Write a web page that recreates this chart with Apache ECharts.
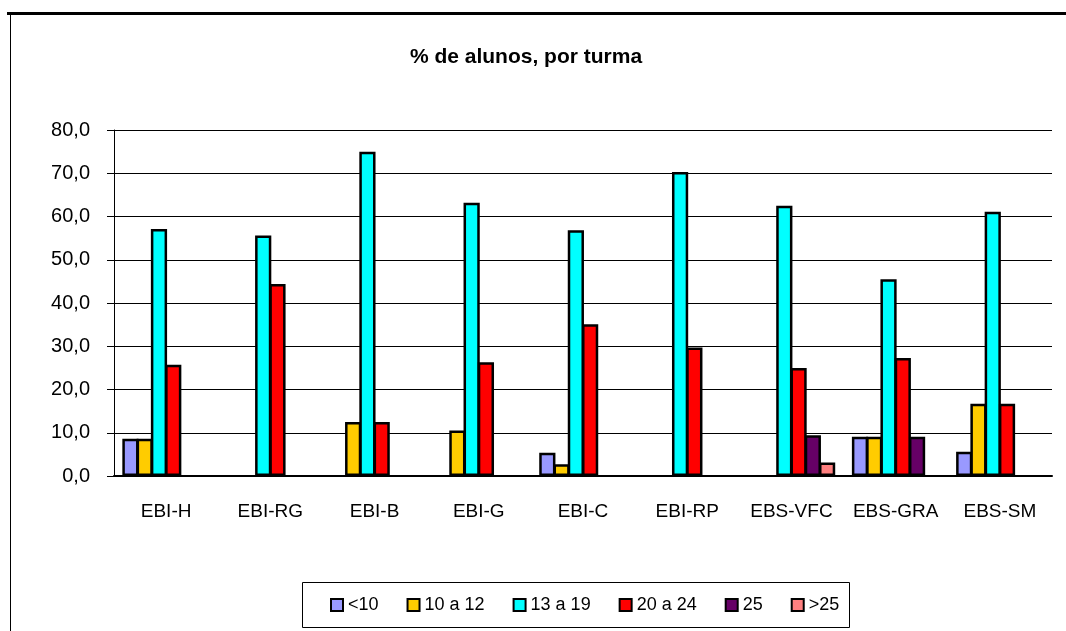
<!DOCTYPE html>
<html>
<head>
<meta charset="utf-8">
<script src="https://cdn.jsdelivr.net/npm/echarts@6/dist/echarts.min.js"></script>
<style>
  html, body { margin: 0; padding: 0; background: #fff; }
  #main { width: 1066px; height: 631px; }
</style>
</head>
<body>
<div id="main"></div>
<script>
// turmas
const turmas = ['EBI-H', 'EBI-RG', 'EBI-B', 'EBI-G', 'EBI-C', 'EBI-RP', 'EBS-VFC', 'EBS-GRA', 'EBS-SM'];
// % of students per age class (null = no bar)
const menos10 = [8.6, null, null, null, 5.4, null, null, 9.1, 5.6];
const de10a12 = [8.6, null, 12.5, 10.5, 2.7, null, null, 9.1, 16.7];
const de13a19 = [57.1, 55.6, 75.0, 63.2, 56.8, 70.3, 62.5, 45.5, 61.1];
const de20a24 = [25.7, 44.4, 12.5, 26.3, 35.1, 29.7, 25.0, 27.3, 16.7];
const com25 = [null, null, null, null, null, null, 9.4, 9.1, null];
const mais25 = [null, null, null, null, null, null, 3.1, null, null];

const seriesNames = ['<10', '10 a 12', '13 a 19', '20 a 24', '25', '>25'];
const seriesData = [menos10, de10a12, de13a19, de20a24, com25, mais25];
const colors = ['#9999FF', '#FFCC00', '#00FFFF', '#FF0000', '#660066', '#FF8080'];

const font = 'Liberation Sans, Arial, sans-serif';

var chart = echarts.init(document.getElementById('main'));

const option = {
    animation: false,
    backgroundColor: '#fff',
    title: {
        text: '% de alunos, por turma',
        left: 521,
        top: 42,
        textAlign: 'center',
        textStyle: { fontFamily: font, fontSize: 21, fontWeight: 'bold', color: '#000' }
    },
    grid: { left: 114, right: 14, top: 130, bottom: 155 },
    legend: {
        left: 330,
        top: 596,
        padding: 0,
        itemGap: 28,
        itemWidth: 12,
        itemHeight: 12,
        icon: 'rect',
        textStyle: { fontFamily: font, fontSize: 18, color: '#000' },
        data: seriesNames
    },
    xAxis: {
        type: 'category',
        data: turmas,
        axisLine: { lineStyle: { color: '#000', width: 2 } },
        axisTick: { length: 6, lineStyle: { color: '#000' } },
        axisLabel: { interval: 0, margin: 26, fontFamily: font, fontSize: 19, color: '#000' }
    },
    yAxis: {
        type: 'value',
        min: 0,
        max: 80,
        interval: 10,
        axisLine: { show: true, lineStyle: { color: '#000' } },
        axisTick: { show: true, length: 7, lineStyle: { color: '#000' } },
        axisLabel: {
            margin: 24,
            fontFamily: font,
            fontSize: 20,
            color: '#000',
            formatter: v => v.toFixed(1).replace('.', ',')
        },
        splitLine: { lineStyle: { color: '#000', width: 1 } }
    },
    graphic: [
        { type: 'rect', shape: { x: 7, y: 12, width: 1059, height: 3 }, style: { fill: '#000' } },
        { type: 'line', shape: { x1: 10.5, y1: 15, x2: 10.5, y2: 631 }, style: { stroke: '#000', lineWidth: 1 } },
        { type: 'rect', shape: { x: 302.5, y: 582.5, width: 547, height: 45 }, style: { fill: 'none', stroke: '#000', lineWidth: 1 } }
    ],
    series: seriesNames.map((name, i) => ({
        name: name,
        type: 'bar',
        data: seriesData[i],
        barGap: '-12%',
        barCategoryGap: '16%',
        itemStyle: { color: colors[i], borderColor: '#000', borderWidth: 2.5 }
    }))
};

chart.setOption(option);
</script>
</body>
</html>
